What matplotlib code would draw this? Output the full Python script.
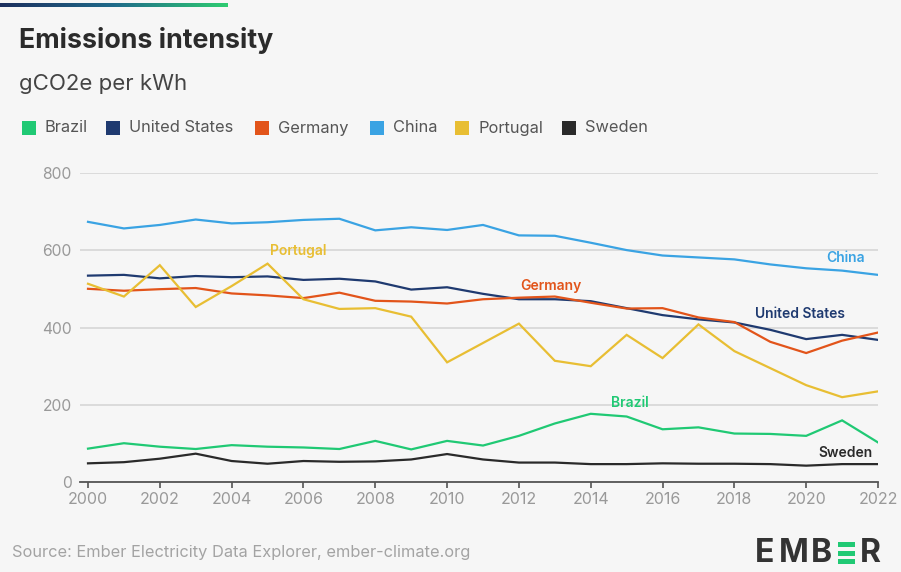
import numpy as np
import matplotlib
matplotlib.use("Agg")
import matplotlib.pyplot as plt
from matplotlib.patches import Rectangle
from matplotlib.colors import LinearSegmentedColormap

years = list(range(2000, 2023))
brazil = [87, 101, 92, 86, 96, 92, 90, 86, 107, 85, 107, 95, 120, 152, 177, 170, 137, 142, 126, 125, 120, 160, 103]
united_states = [534, 536, 527, 533, 530, 532, 523, 526, 519, 498, 504, 487, 473, 473, 468, 450, 432, 421, 413, 394, 370, 381, 368]
germany = [500, 495, 499, 502, 488, 483, 476, 490, 469, 467, 462, 473, 477, 480, 464, 449, 450, 426, 414, 363, 334, 366, 387]
china = [673, 656, 665, 679, 669, 672, 678, 681, 651, 659, 652, 665, 638, 637, 619, 600, 586, 581, 576, 563, 553, 547, 536]
portugal = [513, 480, 561, 453, 507, 565, 473, 448, 450, 428, 310, 360, 410, 314, 300, 381, 321, 408, 339, 295, 251, 220, 235]
sweden = [49, 52, 61, 74, 55, 48, 55, 53, 54, 59, 73, 59, 51, 51, 47, 47, 49, 48, 48, 47, 43, 47, 47]

names = ["Brazil", "United States", "Germany", "China", "Portugal", "Sweden"]
colors = ["#20c974", "#1f3a70", "#e2541a", "#3aa3e3", "#e8be33", "#2a2a2a"]
series = [brazil, united_states, germany, china, portugal, sweden]
yticks = [0, 200, 400, 600, 800]
xticks = list(range(2000, 2023, 2))

plt.rcParams['font.family'] = ['Inter', 'DejaVu Sans']
BG = "#f6f6f6"
W, H = 901, 572
fig = plt.figure(figsize=(W / 100, H / 100), dpi=100, facecolor=BG)

def fx(px):
    return px / W

def fy(py):
    return 1 - py / H

# top gradient bar
gax = fig.add_axes([0, fy(7), fx(228), 4 / H])
grad = np.linspace(0, 1, 256).reshape(1, -1)
cm = LinearSegmentedColormap.from_list("g", ["#1c2f5e", "#1f6a8a", "#2ecc71"])
gax.imshow(grad, aspect="auto", cmap=cm)
gax.axis("off")

fig.text(fx(19), fy(40), "Emissions intensity", fontsize=19.3, fontweight="bold",
         color="#2b2b2b", va="center", ha="left")
fig.text(fx(19), fy(84), "gCO2e per kWh", fontsize=16, color="#444444", va="center", ha="left")

# legend
sq_x = [22, 106, 255, 370, 455, 562]
for name, c, sx in zip(names, colors, sq_x):
    fig.patches.append(Rectangle((fx(sx), fy(135)), 14 / W, 14 / H, transform=fig.transFigure,
                                 facecolor=c, edgecolor="none"))
    fig.text(fx(sx + 23), fy(128), name, fontsize=11.8, color="#555555", va="center", ha="left")

# main axes
left, right = 80, 878
top, bottom = 172.7, 482.3
ax = fig.add_axes([fx(left), fy(bottom), (right - left) / W, (bottom - top) / H])
ax.set_facecolor(BG)
for s, c in zip(series, colors):
    ax.plot(years, s, color=c, lw=1.6, solid_joinstyle="miter", zorder=3)

ax.set_xlim(2000 - 8 / 35.9, 2022)
ax.set_ylim(0, 800)
ax.set_yticks(yticks)
ax.set_xticks(xticks)
ax.grid(axis="y", color="#d9d9d9", lw=1.3, zorder=0)
for sp in ["top", "right", "left"]:
    ax.spines[sp].set_visible(False)
ax.spines["bottom"].set_color("#555555")
ax.spines["bottom"].set_linewidth(1.3)
ax.tick_params(axis="y", length=0, pad=6, labelsize=11.3, labelcolor="#999999")
ax.tick_params(axis="x", length=4, width=1.2, color="#555555", pad=3,
               labelsize=11.5, labelcolor="#999999")

labels = [("Portugal", 2005.85, 597, colors[4]),
          ("China", 2021.1, 580, colors[3]),
          ("Germany", 2012.9, 507, colors[2]),
          ("United States", 2019.83, 435, colors[1]),
          ("Brazil", 2015.1, 205, colors[0]),
          ("Sweden", 2021.1, 76, colors[5])]
for t, x, y, c in labels:
    ax.text(x, y, t, color=c, fontsize=10, fontweight="semibold", ha="center", va="center", zorder=4)

fig.text(fx(12), fy(552), "Source: Ember Electricity Data Explorer, ember-climate.org",
         fontsize=11.8, color="#a3a3a3", va="center", ha="left")

# logo
for ch, px in [("E", 755), ("M", 779), ("B", 811), ("R", 860)]:
    fig.text(fx(px), fy(553), ch, fontsize=23, fontweight="bold", color="#333333",
             va="center", ha="left")
for yy in [542, 550.5, 559]:
    fig.patches.append(Rectangle((fx(838), fy(yy + 5)), 17 / W, 5 / H, transform=fig.transFigure,
                                 facecolor="#20c974", edgecolor="none"))

fig.savefig("out.png", dpi=100, facecolor=BG)
